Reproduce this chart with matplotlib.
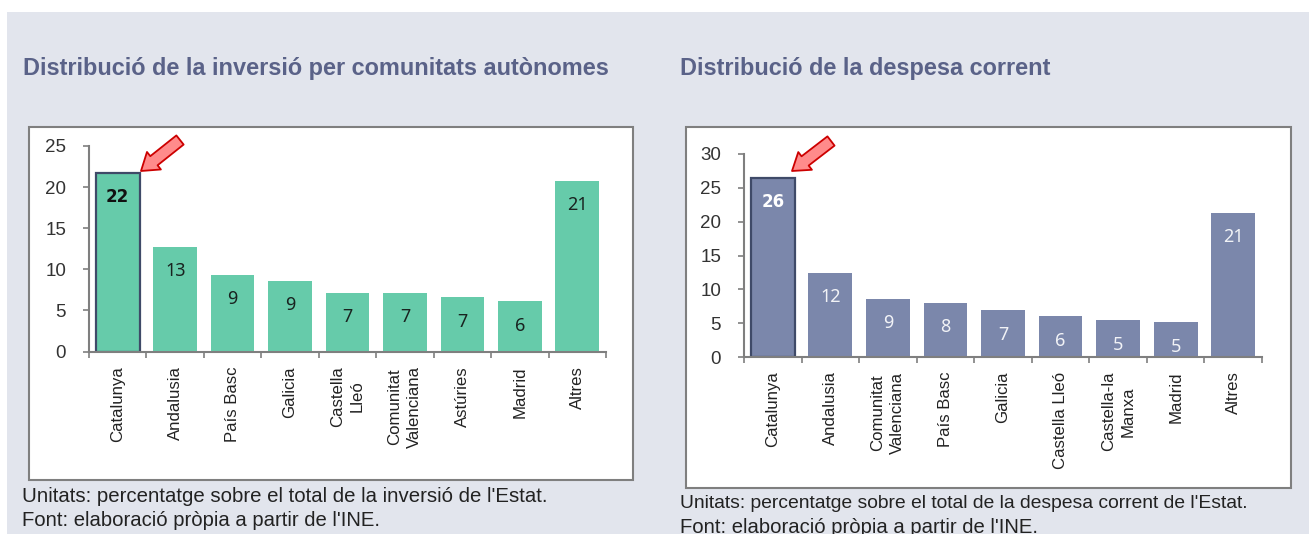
import matplotlib
matplotlib.use('Agg')
import matplotlib.pyplot as plt
from matplotlib.patches import Rectangle

W, H = 1309, 534

# --- data ---
regions_inv = ['Catalunya', 'Andalusia', 'País Basc', 'Galicia', 'Castella\nLleó',
               'Comunitat\nValenciana', 'Astúries', 'Madrid', 'Altres']
values_inv = [21.7, 12.7, 9.3, 8.6, 7.1, 7.1, 6.6, 6.1, 20.8]
labels_inv = ['22', '13', '9', '9', '7', '7', '7', '6', '21']
yticks_inv = [0, 5, 10, 15, 20, 25]

regions_desp = ['Catalunya', 'Andalusia', 'Comunitat\nValenciana', 'País Basc', 'Galicia',
                'Castella Lleó', 'Castella-la\nManxa', 'Madrid', 'Altres']
values_desp = [26.5, 12.4, 8.6, 8.0, 6.9, 6.0, 5.4, 5.1, 21.3]
labels_desp = ['26', '12', '9', '8', '7', '6', '5', '5', '21']
yticks_desp = [0, 5, 10, 15, 20, 25, 30]

BG = '#e2e5ed'
GREEN = '#66cbaa'
SLATE = '#7b87ab'
DARK = '#3f4a68'
GREY = '#7f7f7f'
TITLE = '#5a6288'

plt.rcParams['font.family'] = ['Liberation Sans', 'DejaVu Sans']


def px_axes(fig, x0, y0, x1, y1):
    # pixel box measured from the top left of the picture
    return fig.add_axes([x0 / W, 1 - y1 / H, (x1 - x0) / W, (y1 - y0) / H])


def draw_panel(fig, box, area, names, values, labels, yticks, color, textcolor, arrow):
    fig.add_artist(Rectangle((box[0] / W, 1 - box[3] / H), (box[2] - box[0]) / W, (box[3] - box[1]) / H,
                             transform=fig.transFigure, fc='white', ec=GREY, lw=1.5, zorder=-1))
    ax = px_axes(fig, *area)
    ax.patch.set_alpha(0)
    x = list(range(len(values)))
    bars = ax.bar(x, values, width=0.76, color=color, zorder=2)
    bars[0].set_edgecolor(DARK)
    bars[0].set_linewidth(1.6)
    ax.set_xlim(-0.5, len(values) - 0.5)
    ax.set_ylim(yticks[0], yticks[-1])
    for s in ['top', 'right']:
        ax.spines[s].set_visible(False)
    for s in ['left', 'bottom']:
        ax.spines[s].set_color(GREY)
        ax.spines[s].set_linewidth(1.5)
    ax.set_yticks(yticks)
    ax.set_xticks([i - 0.5 for i in x] + [len(x) - 0.5])
    ax.set_xticklabels([])
    ax.tick_params(axis='y', length=4.5, width=1.2, color=GREY, labelsize=13.5, labelcolor='#333333', pad=12)
    ax.tick_params(axis='x', length=4, width=1.2, color=GREY)
    for i, (v, lab) in enumerate(zip(values, labels)):
        # the first bar is the highlighted one, its label is heavier
        if i == 0:
            ax.annotate(lab, (i, v), xytext=(0, -17.5), textcoords='offset points', ha='center', va='center',
                        fontsize=12, color=textcolor, fontfamily='DejaVu Sans', fontweight='bold', zorder=3)
        else:
            ax.annotate(lab, (i, v), xytext=(0, -17.5), textcoords='offset points', ha='center', va='center',
                        fontsize=13, color=textcolor, fontfamily='Noto Sans', alpha=0.9, zorder=3)
        # category names hang under the axis, centred on the bar
        ax.annotate(names[i], (i, 0), xytext=(0, -10.5), textcoords='offset points', rotation=90,
                    ha='center', va='top', fontsize=12.1, color='#222222', linespacing=1.4,
                    annotation_clip=False)
    ax.annotate('', xy=(arrow[0] / W, 1 - arrow[1] / H), xytext=(arrow[2] / W, 1 - arrow[3] / H),
                xycoords='figure fraction', textcoords='figure fraction',
                arrowprops=dict(arrowstyle='simple,head_length=0.85,head_width=1.15,tail_width=0.6',
                                fc='#ff8b8b', ec='#cc0000', lw=1.3, shrinkA=0, shrinkB=0,
                                mutation_scale=14))


fig = plt.figure(figsize=(W / 100, H / 100), dpi=100, facecolor='white')
fig.add_artist(Rectangle((7 / W, 0), 1, 1 - 12 / H, transform=fig.transFigure, fc=BG, ec='none', zorder=-2))

fig.text(23 / W, 1 - 68.5 / H, 'Distribució de la inversió per comunitats autònomes', fontsize=16.9,
         fontweight='bold', color=TITLE, va='center')
fig.text(680 / W, 1 - 68.5 / H, 'Distribució de la despesa corrent', fontsize=16.9,
         fontweight='bold', color=TITLE, va='center')

draw_panel(fig, (29, 127, 633, 480), (89, 146, 606, 351.5), regions_inv, values_inv, labels_inv,
           yticks_inv, GREEN, '#111111', (141, 171, 180, 140))
draw_panel(fig, (686, 127, 1291, 488), (744, 154, 1262, 357), regions_desp, values_desp, labels_desp,
           yticks_desp, SLATE, 'white', (792, 171, 831, 141))

fig.text(22 / W, 1 - 497 / H, "Unitats: percentatge sobre el total de la inversió de l'Estat.",
         fontsize=14.7, color='#222222', va='center')
fig.text(22 / W, 1 - 520 / H, "Font: elaboració pròpia a partir de l'INE.",
         fontsize=14.55, color='#222222', va='center')
fig.text(680 / W, 1 - 503.5 / H, "Unitats: percentatge sobre el total de la despesa corrent de l'Estat.",
         fontsize=13.9, color='#222222', va='center')
fig.text(680 / W, 1 - 527.5 / H, "Font: elaboració pròpia a partir de l'INE.",
         fontsize=14.55, color='#222222', va='center')

fig.savefig('out.png', dpi=100)
